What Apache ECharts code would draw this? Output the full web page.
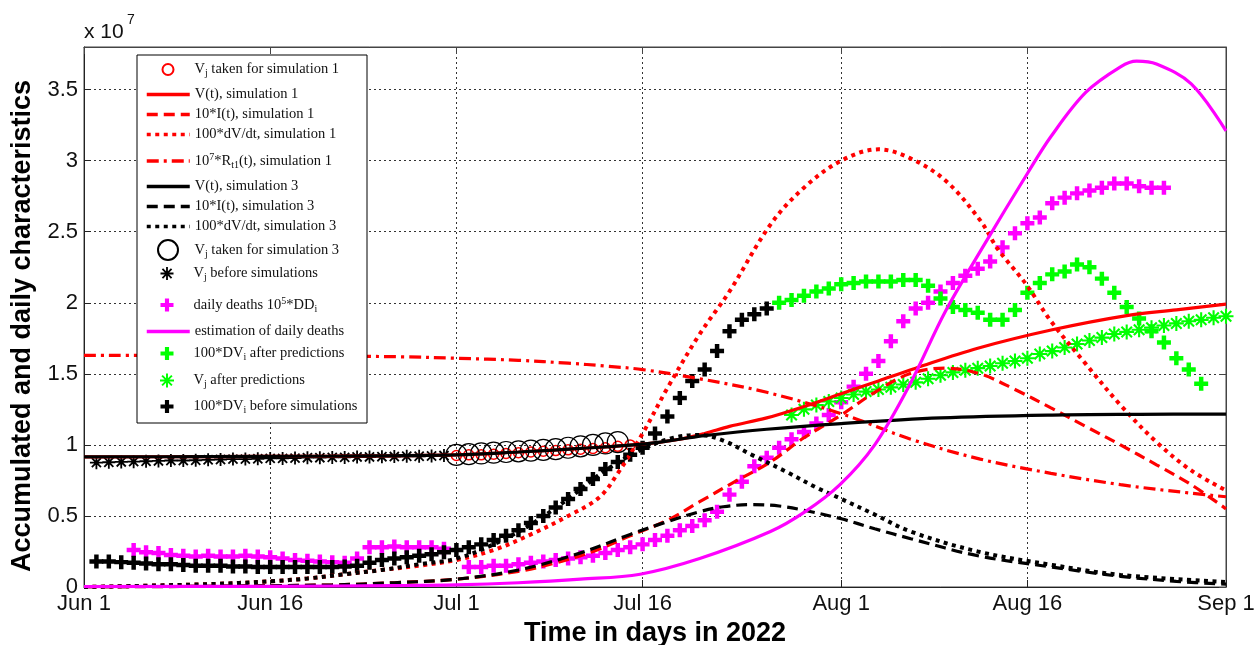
<!DOCTYPE html>
<html>
<head>
<meta charset="utf-8">
<script src="https://cdn.jsdelivr.net/npm/echarts@6/dist/echarts.min.js"></script>
<style>
  html, body { margin: 0; padding: 0; background: #fff; }
  #chart { width: 1258px; height: 645px; }
</style>
</head>
<body>
<div id="chart"></div>
<script>
// x axis: day index from Jun 1 (0) to Sep 1 (92)
const tickDays = [0, 15, 30, 45, 61, 76, 92];
const tickLabels = ['Jun 1', 'Jun 16', 'Jul 1', 'Jul 16', 'Aug 1', 'Aug 16', 'Sep 1'];

// curves, [day, value in units of 1e7]
const vSim1 = [[0,0.915],[10,0.918],[20,0.922],[30,0.93],[35,0.95],[40,0.975],[45,1.005],[48,1.04],[50,1.08],[52,1.13],[55,1.19],[58,1.27],[61,1.36],[64,1.45],[67,1.54],[72,1.68],[78,1.81],[84,1.91],[88,1.95],[92,1.99]];
const iSim1 = [[0,0],[10,0.005],[20,0.015],[25,0.03],[30,0.055],[35,0.11],[38,0.17],[41,0.25],[44,0.36],[47,0.47],[49.6,0.6],[52.4,0.74],[55.3,0.88],[58,1.05],[61,1.21],[63.7,1.37],[66.5,1.5],[69.4,1.54],[72.2,1.5],[75,1.39],[77.9,1.26],[80.7,1.13],[83.5,1.0],[86.4,0.86],[89.2,0.72],[92,0.55]];
const dvSim1 = [[0,0],[10,0.02],[15,0.04],[18,0.06],[21,0.09],[24,0.12],[27,0.15],[30,0.19],[33,0.26],[36,0.37],[39,0.5],[41.5,0.63],[43,0.8],[45,1.08],[47,1.4],[49.6,1.78],[52,2.08],[55.3,2.55],[58,2.81],[61,3.0],[64,3.08],[66.5,3.02],[69.4,2.86],[72.2,2.58],[73.6,2.38],[75.9,2.13],[77.9,1.87],[80.7,1.57],[83.5,1.28],[86.4,1.02],[89.2,0.82],[92,0.68]];
const rSim1 = [[0,1.63],[10,1.63],[20,1.625],[25.5,1.62],[30,1.61],[35,1.595],[39,1.575],[42,1.555],[45,1.53],[49.6,1.465],[55,1.37],[61,1.22],[66.6,1.04],[72.2,0.9],[77.9,0.8],[83.5,0.72],[89.2,0.66],[92,0.635]];
const vSim3 = [[0,0.915],[10,0.918],[20,0.922],[30,0.93],[35,0.95],[40,0.975],[45,1.005],[48,1.04],[50,1.065],[55,1.11],[61,1.15],[69,1.19],[78,1.21],[85,1.215],[92,1.217]];
const iSim3 = [[0,0],[10,0.005],[20,0.015],[25,0.03],[30,0.055],[35,0.12],[40,0.24],[44,0.37],[47,0.46],[49.6,0.53],[51.5,0.565],[53.8,0.58],[56,0.57],[58,0.54],[61,0.48],[63.7,0.41],[66.6,0.34],[72,0.22],[78,0.14],[83.5,0.075],[88,0.04],[92,0.02]];
const dvSim3 = [[0,0],[10,0.02],[15,0.04],[18,0.06],[21,0.09],[24,0.12],[27,0.16],[30,0.2],[33,0.3],[36,0.44],[39,0.62],[42,0.82],[45,0.97],[47.5,1.05],[49.6,1.07],[51.5,1.03],[53.8,0.93],[56.6,0.81],[59,0.7],[61,0.62],[63.7,0.51],[66.6,0.39],[72,0.25],[78,0.155],[83.5,0.085],[92,0.035]];
const ddEstimate = [[0,0.003],[15,0.005],[25,0.01],[30,0.015],[35,0.03],[40,0.055],[44.8,0.09],[49.6,0.2],[55.3,0.39],[58.1,0.53],[60.9,0.72],[63.7,1.0],[66.5,1.42],[69.4,1.94],[72.6,2.42],[76,2.91],[77.9,3.17],[80.7,3.48],[83.5,3.66],[84.8,3.7],[86.4,3.68],[89.2,3.54],[92,3.21]];

// daily markers: first day + one value per day
const vjSim1Start = 30;
const vjSim1 = [0.925,0.93,0.93,0.935,0.94,0.945,0.95,0.955,0.96,0.965,0.97,0.975,0.98,0.99,1.0];
const vjSim3Start = 30;
const vjSim3 = [0.93,0.935,0.94,0.945,0.95,0.955,0.96,0.965,0.97,0.98,0.99,1.0,1.01,1.02];
const vjBeforeStart = 1;
const vjBefore = [0.875,0.878,0.88,0.882,0.885,0.887,0.89,0.89,0.892,0.895,0.897,0.9,0.9,0.902,0.905,0.905,0.907,0.91,0.91,0.912,0.912,0.915,0.915,0.917,0.918,0.92,0.92,0.922,0.925];
const deathsStart = 4;
const deaths = [0.26,0.245,0.24,0.225,0.22,0.215,0.22,0.215,0.215,0.22,0.215,0.21,0.2,0.19,0.185,0.18,0.175,0.17,0.2,0.28,0.28,0.285,0.28,0.28,0.28,0.27,
  null,
  0.14,0.14,0.15,0.15,0.16,0.17,0.18,0.19,0.2,0.21,0.22,0.24,0.26,0.28,0.3,0.33,0.36,0.4,0.43,0.47,0.53,0.65,0.74,0.85,0.91,0.98,1.04,1.09,1.15,1.21,1.3,1.41,1.5,1.59,1.73,1.87,1.96,2.0,2.08,2.14,2.19,2.24,2.29,2.39,2.49,2.56,2.6,2.7,2.74,2.77,2.79,2.81,2.84,2.84,2.82,2.81,2.81];
const dvAfterStart = 56;
const dvAfter = [2.0,2.02,2.05,2.08,2.1,2.13,2.14,2.15,2.15,2.15,2.16,2.16,2.12,2.03,1.97,1.95,1.93,1.88,1.88,1.95,2.07,2.14,2.2,2.22,2.27,2.25,2.17,2.07,1.97,1.89,1.8,1.72,1.61,1.53,1.43];
const vjAfterStart = 57;
const vjAfter = [1.21,1.25,1.28,1.305,1.33,1.355,1.375,1.39,1.405,1.425,1.44,1.465,1.49,1.51,1.525,1.54,1.555,1.575,1.59,1.61,1.64,1.66,1.685,1.71,1.735,1.755,1.78,1.795,1.81,1.825,1.84,1.855,1.87,1.88,1.895,1.905];
const dvBeforeStart = 1;
const dvBefore = [0.18,0.18,0.175,0.17,0.165,0.16,0.16,0.155,0.15,0.15,0.15,0.145,0.145,0.14,0.14,0.14,0.14,0.14,0.14,0.14,0.145,0.15,0.17,0.19,0.2,0.21,0.22,0.23,0.245,0.26,0.28,0.3,0.33,0.36,0.4,0.45,0.5,0.56,0.62,0.69,0.76,0.83,0.88,0.93,0.98,1.08,1.2,1.33,1.45,1.53,1.66,1.8,1.88,1.92,1.96];

function daily(start, values) {
  return values.map((v, i) => [start + i, v]).filter(p => p[1] !== null);
}

const dayCats = [];
for (let i = 0; i <= 92; i++) {
  const k = tickDays.indexOf(i);
  dayCats.push(k >= 0 ? tickLabels[k] : '');
}
const isTick = (i) => tickDays.indexOf(i) >= 0;

const plusPath = 'path://M-1.6,-5H1.6V-1.6H5V1.6H1.6V5H-1.6V1.6H-5V-1.6H-1.6Z';
const starPath = 'path://M-5,-0.7H5V0.7H-5Z M-0.7,-5H0.7V5H-0.7Z M-4,-3L-3,-4L4,3L3,4Z M3,-4L4,-3L-3,4L-4,3Z';

const RED = '#ff0000', BLACK = '#000000', MAGENTA = '#ff00ff', GREEN = '#00ff00';
const DASH = [11, 6], DOT = [4, 4.5], DASHDOT = [12, 5, 3, 5];

function curve(name, data, color, type, width) {
  return {
    name: name, type: 'line', data: data, xAxisIndex: 0, yAxisIndex: 0,
    symbol: 'none', smooth: 0.35, color: color,
    lineStyle: { color: color, width: width || 3.2, type: type, cap: 'butt' }
  };
}
function marks(name, data, symbol, size, itemStyle) {
  itemStyle.opacity = 1;
  return {
    name: name, type: 'scatter', data: data, xAxisIndex: 0, yAxisIndex: 0,
    symbol: symbol, symbolSize: size, itemStyle: itemStyle
  };
}

const series = [
  marks('vjSim1', daily(vjSim1Start, vjSim1), 'circle', 10, { color: 'transparent', borderColor: RED, borderWidth: 1.5 }),
  curve('vSim1', vSim1, RED, 'solid'),
  curve('iSim1', iSim1, RED, DASH),
  curve('dvSim1', dvSim1, RED, DOT, 4),
  curve('rSim1', rSim1, RED, DASHDOT),
  curve('vSim3', vSim3, BLACK, 'solid'),
  curve('iSim3', iSim3, BLACK, DASH),
  curve('dvSim3', dvSim3, BLACK, DOT, 4),
  marks('vjSim3', daily(vjSim3Start, vjSim3), 'circle', 21, { color: 'transparent', borderColor: BLACK, borderWidth: 1.2 }),
  marks('vjBefore', daily(vjBeforeStart, vjBefore), starPath, 13, { color: BLACK }),
  marks('deaths', daily(deathsStart, deaths), plusPath, 14, { color: MAGENTA }),
  curve('ddEstimate', ddEstimate, MAGENTA, 'solid'),
  marks('dvAfter', daily(dvAfterStart, dvAfter), plusPath, 14, { color: GREEN }),
  marks('vjAfter', daily(vjAfterStart, vjAfter), starPath, 15, { color: GREEN }),
  marks('dvBefore', daily(dvBeforeStart, dvBefore), plusPath, 14, { color: BLACK })
];

// legend rows: series name, rich label, row centre y, marker size (markers only)
const legendRows = [
  ['vjSim1', '{t|V}{sub|j}{t| taken for simulation 1}', 71, 11],
  ['vSim1', '{t|V(t), simulation 1}', 96],
  ['iSim1', '{t|10*I(t), simulation 1}', 116],
  ['dvSim1', '{t|100*dV/dt, simulation 1}', 136],
  ['rSim1', '{t|10}{sup|7}{t|*R}{sub|t1}{t|(t), simulation 1}', 161],
  ['vSim3', '{t|V(t), simulation 3}', 188],
  ['iSim3', '{t|10*I(t), simulation 3}', 208],
  ['dvSim3', '{t|100*dV/dt, simulation 3}', 228],
  ['vjSim3', '{t|V}{sub|j}{t| taken for simulation 3}', 249, 20],
  ['vjBefore', '{t|V}{sub|j}{t| before simulations}', 275, 13],
  ['deaths', '{t|daily deaths 10}{sup|5}{t|*DD}{sub|i}', 305, 13],
  ['ddEstimate', '{t|estimation of daily deaths}', 333],
  ['dvAfter', '{t|100*DV}{sub|i}{t| after predictions}', 355, 13],
  ['vjAfter', '{t|V}{sub|j}{t| after predictions}', 382, 14],
  ['dvBefore', '{t|100*DV}{sub|i}{t| before simulations}', 408, 13]
];

const serif = 'Liberation Serif';
const rich = {
  t: { fontFamily: serif, fontSize: 14.5, lineHeight: 18, color: '#111' },
  sub: { fontFamily: serif, fontSize: 10, lineHeight: 10, verticalAlign: 'bottom', color: '#111' },
  sup: { fontFamily: serif, fontSize: 10, lineHeight: 10, verticalAlign: 'top', color: '#111' }
};

const legends = legendRows.map(function (row) {
  const isMarker = !!row[3];
  const h = row[3] || 12;
  const boxH = Math.max(h, 18);
  return {
    show: true, type: 'plain', orient: 'vertical', selectedMode: false,
    data: [row[0]], left: isMarker ? 167 - h / 2 : 145, top: row[2] - boxH / 2, padding: 0, itemGap: 0,
    itemWidth: 43, itemHeight: h, z: 20,
    formatter: function () { return row[1]; },
    textStyle: { fontFamily: serif, fontSize: 14.5, color: '#111', rich: rich },
    itemStyle: isMarker ? { opacity: 1 } : { opacity: 0 },
    lineStyle: { width: 3.5 }
  };
});

const gridLine = { type: [2, 3], color: '#333', width: 1 };
const sans = 'Liberation Sans';

const chart = echarts.init(document.getElementById('chart'));
chart.setOption({
  animation: false,
  backgroundColor: '#fff',
  grid: { left: 84, right: 32, top: 47, bottom: 58, containLabel: false, outerBoundsMode: 'none',
    show: true, borderColor: '#444', borderWidth: 1, backgroundColor: 'transparent' },
  xAxis: [
    { type: 'value', min: 0, max: 92, show: false },
    {
      type: 'category', data: dayCats, boundaryGap: false, position: 'bottom',
      axisLine: { show: true, lineStyle: { color: '#222', width: 1 } },
      axisTick: { show: true, inside: true, length: 7, interval: isTick, lineStyle: { color: '#222' } },
      axisLabel: { show: true, interval: isTick, fontFamily: sans, fontSize: 22, color: '#111', margin: 6 },
      splitLine: { show: true, interval: function (i) { return isTick(i) && i > 0 && i < 92; }, lineStyle: gridLine },
      name: 'Time in days in 2022', nameLocation: 'middle', nameGap: 30,
      nameTextStyle: { fontFamily: sans, fontSize: 27, fontWeight: 'bold', color: '#000' }
    },
    {
      type: 'category', data: dayCats, boundaryGap: false, position: 'top',
      axisLine: { show: true, lineStyle: { color: '#444', width: 1 } },
      axisTick: { show: true, inside: true, length: 7, interval: isTick, lineStyle: { color: '#444' } },
      axisLabel: { show: false }, splitLine: { show: false }
    }
  ],
  yAxis: [
    {
      type: 'value', min: 0, max: 3.8, interval: 0.5,
      axisLine: { show: true, lineStyle: { color: '#222', width: 1 } },
      axisTick: { show: true, inside: true, length: 7, lineStyle: { color: '#222' } },
      axisLabel: { showMaxLabel: false, fontFamily: sans, fontSize: 22, color: '#111', margin: 6 },
      splitLine: { show: true, lineStyle: gridLine },
      name: 'Accumulated and daily characteristics', nameLocation: 'middle', nameGap: 35,
      nameTextStyle: { fontFamily: sans, fontSize: 27, fontWeight: 'bold', color: '#000', padding: [0, 18, 0, 0] }
    },
    {
      type: 'value', min: 0, max: 3.8, interval: 0.5, position: 'right',
      axisLine: { show: true, lineStyle: { color: '#444', width: 1 } },
      axisTick: { show: true, inside: true, length: 7, lineStyle: { color: '#444' } },
      axisLabel: { show: false }, splitLine: { show: false }
    }
  ],
  legend: legends,
  graphic: [
    { type: 'rect', z: 15, shape: { x: 137, y: 55, width: 230, height: 368 },
      style: { fill: '#fff', stroke: '#000', lineWidth: 1 } },
    { type: 'text', z: 15, x: 84, y: 22,
      style: { text: 'x 10', fontFamily: sans, fontSize: 21, fill: '#111' } },
    { type: 'text', z: 15, x: 127, y: 13,
      style: { text: '7', fontFamily: sans, fontSize: 14, fill: '#111' } }
  ],
  series: series
});
</script>
</body>
</html>
